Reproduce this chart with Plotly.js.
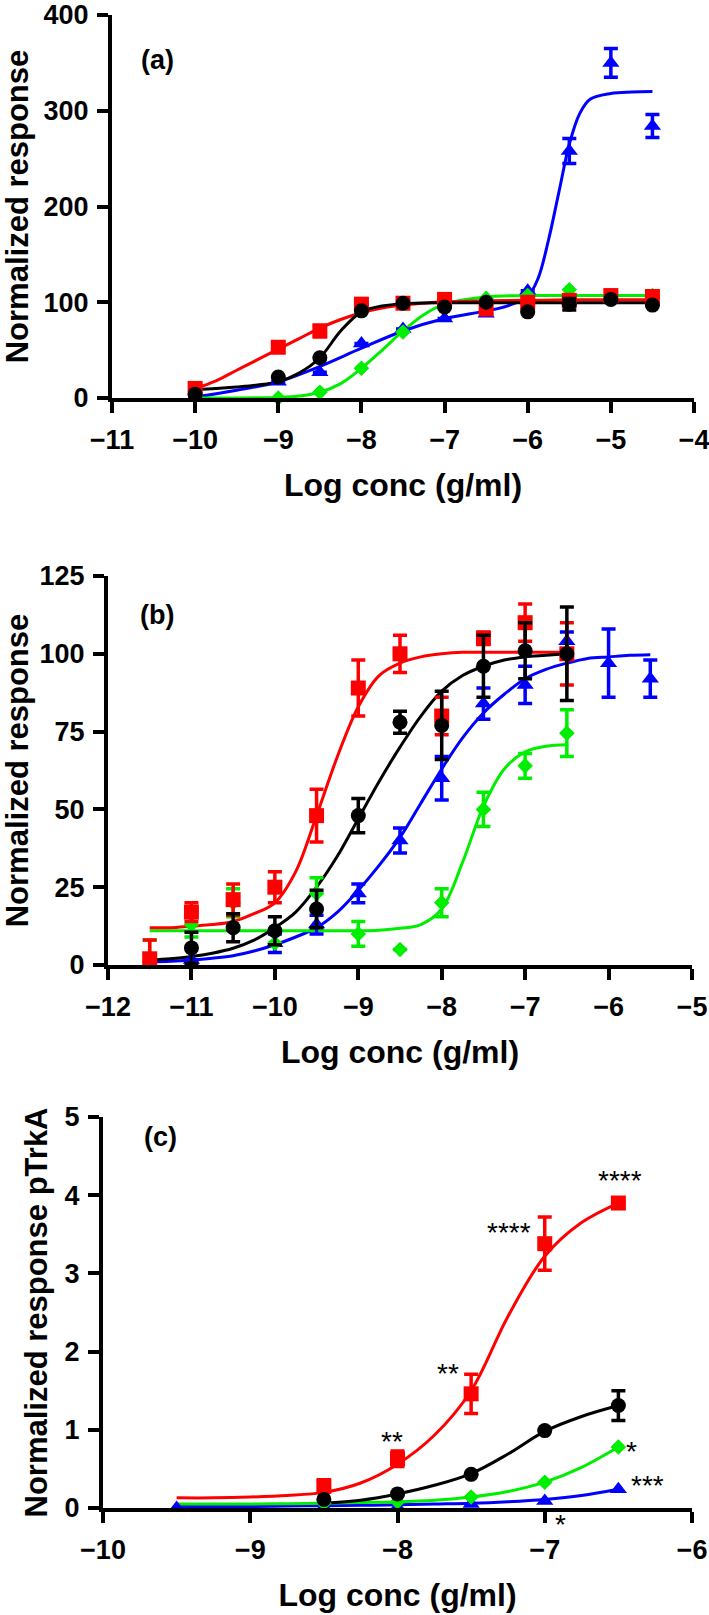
<!DOCTYPE html>
<html>
<head>
<meta charset="utf-8">
<script src="https://cdn.plot.ly/plotly-3.0.1.min.js"></script>
<style>html,body{margin:0;padding:0;background:#fff;}#chart{width:709px;height:1615px;}</style>
</head>
<body>
<div id="chart"></div>
<script>
// ---------- Panel (a) ----------
const aPointX = [-10, -9, -8.5, -8, -7.5, -7, -6.5, -6, -5.5, -5, -4.5];
const aRedY   = [10, 53, 70, 98, 99, 103, 93, 100, 102, 107, 106];
const aRedErr = [null, null, 6, null, null, null, null, null, null, null, null];
const aBlackY = [4, 22, 42, 91, 99, 95, 100, 90, 98, 103, 97];
const aBlackErr = [null, null, null, null, null, null, null, null, 6, null, null];
const aBlueY  = [0, 17, 27, 57, 72, 83, 88, 112, 258, 350, 284];
const aBlueErr = [null, null, null, null, null, null, null, null, 13, 15, 12];
const aGreenY = [null, 0, 6, 31, 69, 100, 104, 107, 113, 107, 107];

const aCurveX = [-10, -9.75, -9.5, -9.25, -9, -8.75, -8.5, -8.25, -8, -7.75, -7.5, -7.25, -7, -6.5, -6, -5.5, -5, -4.5];
const aRedCurve   = [10, 18, 29, 40, 51, 62, 73, 82, 89, 94, 97, 99, 100.5, 101.5, 102, 102.5, 102.5, 102.5];
const aBlackCurve = [9, 10, 11.5, 13.5, 17, 26, 42, 70, 90, 96, 98.5, 99.3, 99.5, 99.5, 99.5, 99.5, 99.5, 99.5];
const aGreenCurve = [0, 0, 0, 0.2, 0.5, 2, 6, 15, 31, 50, 70, 87, 98, 105.5, 107, 107, 107, 107];
const aBlueCurveX = [-10, -9.5, -9, -8.5, -8, -7.5, -7, -6.5, -6.25, -6, -5.875, -5.75, -5.625, -5.5, -5.375, -5.25, -5, -4.75, -4.5];
const aBlueCurve  = [1, 8, 17, 33, 52, 70, 83, 91, 96, 106, 125, 165, 215, 265, 297, 312, 318, 319.5, 320];

// ---------- Panel (b) ----------
const bPointX = [-11.5, -11, -10.5, -10, -9.5, -9, -8.5, -8, -7.5, -7, -6.5];
const bRedY   = [2, 17, 21, 25, 48, 89, 100, 80, 105, 110, 100];
const bRedErr = [6, 3, 5, 5, 8.5, 9, 6, 6, 2, 6, 10];
const bBlackY = [null, 5.5, 12, 11, 18, 48, 78, 77, 96, 101, 100];
const bBlackErr = [null, 5, 4.5, 4.5, 6, 5.5, 3.5, 11, 10, 9, 15];
const bGreenY = [1, 13, 20, 7, 23, 10, 5, 20, 50, 64, 74.5];
const bGreenErr = [7, 4, 4.5, null, 5, 4, null, 4.5, 5.5, 4, 7.5];
const bBlueX  = [-11, -10, -9.5, -9, -8.5, -8, -7.5, -7, -6.5, -6, -5.5];
const bBlueY  = [1.6, 7, 13, 23, 40, 60, 84, 90, 104, 97, 92];
const bBlueErr = [null, 3, 3, 3, 4, 7, 5, 6, 3, 11, 6];

const bCurveX = [-11.5, -11.25, -11, -10.75, -10.5, -10.25, -10, -9.75, -9.5, -9.25, -9, -8.75, -8.5, -8.25, -8, -7.75, -7.5, -7.25, -7, -6.75, -6.5];
const bRedCurve   = [12, 12, 12.5, 13, 14, 16.5, 20, 30, 48, 67, 83, 93, 97, 99, 100, 100.5, 100.5, 100.5, 100.5, 100.5, 100.5];
const bBlackCurve = [1.6, 2, 2.7, 3.8, 5.4, 8, 12, 17, 25, 35, 47, 59, 70, 80, 88, 93, 96, 98, 99, 99.5, 100];
const bGreenCurve = [11, 11, 11, 11, 11, 11, 11, 11, 11, 11, 11, 11.2, 11.8, 13, 18, 33, 51, 63, 68.5, 70.3, 70.8];
const bBlueCurveX = [-11.5, -11.25, -11, -10.75, -10.5, -10.25, -10, -9.75, -9.5, -9.25, -9, -8.75, -8.5, -8.25, -8, -7.75, -7.5, -7.25, -7, -6.75, -6.5, -6.25, -6, -5.75, -5.5];
const bBlueCurve  = [1, 1.2, 1.6, 2.2, 3, 4.5, 6.5, 9, 12, 17, 24, 32, 41, 52, 63, 73, 81, 87, 92, 95, 97, 98.5, 99, 99.5, 99.7];

// ---------- Panel (c) ----------
const cPointX = [-9.5, -8.5, -8, -7.5, -7, -6.5];
const cRedY   = [null, 0.28, 0.63, 1.46, 3.38, 3.9];
const cRedErr = [null, 0.08, 0.1, 0.25, 0.34, null];
const cBlackY = [null, 0.11, 0.18, 0.43, 0.99, 1.31];
const cBlackErr = [null, null, null, null, null, 0.19];
const cGreenY = [null, 0.06, 0.08, 0.14, 0.33, 0.78];
const cBlueY  = [0, 0.01, 0.01, 0.05, 0.09, 0.24];

const cCurveX = [-9.5, -9.25, -9, -8.75, -8.5, -8.25, -8, -7.75, -7.5, -7.25, -7, -6.75, -6.5];
const cRedCurve   = [0.13, 0.13, 0.14, 0.16, 0.2, 0.32, 0.56, 0.93, 1.5, 2.45, 3.22, 3.65, 3.9];
const cBlackCurve = [null, null, null, null, 0.06, 0.1, 0.18, 0.29, 0.44, 0.69, 0.98, 1.17, 1.31];
const cGreenCurve = [0.05, 0.05, 0.05, 0.055, 0.06, 0.07, 0.08, 0.1, 0.14, 0.21, 0.33, 0.52, 0.78];
const cBlueCurve  = [0.02, 0.02, 0.02, 0.025, 0.03, 0.035, 0.04, 0.05, 0.06, 0.08, 0.11, 0.16, 0.24];

const sigX    = [-8.04, -7.66, -7.24, -6.49, -6.41, -6.30, -6.89];
const sigY    = [0.93, 1.8, 3.6, 4.26, 0.8, 0.36, -0.13];
const sigText = ['**', '**', '****', '****', '*', '***', '*'];

const panelLabels = ['(a)', '(b)', '(c)'];
const yTitles = ['Normalized response', 'Normalized response', 'Normalized response pTrkA'];
const xTitle = 'Log conc (g/ml)';

// ---------- styles ----------
const FONT = 'Liberation Sans, Arial, Helvetica, sans-serif';
const RED = '#ff0000', BLACK = '#000000', BLUE = '#0000ff', GREEN = '#00ee00';
const SYM = {red: 'square', black: 'circle', blue: 'triangle-up', green: 'diamond'};
const COL = {red: RED, black: BLACK, blue: BLUE, green: GREEN};
const SIZE = {red: 15, black: 15, blue: 15, green: 12};

const traces = [];
function curve(x, y, c, ax) {
  traces.push({x: x, y: y, xaxis: 'x' + ax, yaxis: 'y' + ax, mode: 'lines', type: 'scatter',
    line: {color: COL[c], width: 3, shape: 'spline', smoothing: 1}, hoverinfo: 'skip', cliponaxis: false, connectgaps: false});
}
function pts(x, y, c, ax, err) {
  const t = {x: x, y: y, xaxis: 'x' + ax, yaxis: 'y' + ax, mode: 'markers', type: 'scatter', cliponaxis: false,
    marker: {symbol: SYM[c], size: SIZE[c], color: COL[c], line: {width: 0}}};
  if (err) t.error_y = {type: 'data', array: err, visible: true, color: COL[c], thickness: 3.5, width: 7};
  traces.push(t);
}
// panel a
curve(aBlueCurveX, aBlueCurve, 'blue', '');
curve(aCurveX, aGreenCurve, 'green', '');
curve(aCurveX, aRedCurve, 'red', '');
curve(aCurveX, aBlackCurve, 'black', '');
pts(aPointX, aBlueY, 'blue', '', aBlueErr);
pts(aPointX, aGreenY, 'green', '');
pts(aPointX, aRedY, 'red', '', aRedErr);
pts(aPointX, aBlackY, 'black', '', aBlackErr);
// panel b
curve(bBlueCurveX, bBlueCurve, 'blue', '2');
curve(bCurveX, bGreenCurve, 'green', '2');
curve(bCurveX, bRedCurve, 'red', '2');
curve(bCurveX, bBlackCurve, 'black', '2');
pts(bBlueX, bBlueY, 'blue', '2', bBlueErr);
pts(bPointX, bGreenY, 'green', '2', bGreenErr);
pts(bPointX, bRedY, 'red', '2', bRedErr);
pts(bPointX, bBlackY, 'black', '2', bBlackErr);
// panel c
curve(cCurveX, cBlueCurve, 'blue', '3');
curve(cCurveX, cGreenCurve, 'green', '3');
curve(cCurveX, cRedCurve, 'red', '3');
curve(cCurveX, cBlackCurve, 'black', '3');
pts(cPointX, cBlueY, 'blue', '3');
pts(cPointX, cGreenY, 'green', '3');
pts(cPointX, cRedY, 'red', '3', cRedErr);
pts(cPointX, cBlackY, 'black', '3', cBlackErr);

const W = 709, H = 1615;
function px(x) { return x / W; }
function py(y) { return 1 - y / H; }

const TICKFONT = {family: FONT, size: 27, color: '#000', weight: 'bold'};
function xAxis(range, left, right, anchor) {
  return {domain: [px(left), px(right)], anchor: anchor, range: range, dtick: 1, tick0: range[0],
    showline: true, linewidth: 4, linecolor: '#000', ticks: 'outside', ticklen: 11, tickwidth: 4, tickcolor: '#000',
    showgrid: false, zeroline: false, fixedrange: true, ticklabelstandoff: 4, ticklabeloverflow: 'allow',
    tickfont: TICKFONT,
    title: {text: xTitle, font: {family: FONT, size: 32, color: '#000', weight: 'bold'}, standoff: 20}};
}
function yAxis(range, dtick, top, bottom, anchor, title) {
  return {domain: [py(bottom), py(top)], anchor: anchor, range: range, dtick: dtick, tick0: 0,
    showline: true, linewidth: 4, linecolor: '#000', ticks: 'outside', ticklen: 11, tickwidth: 4, tickcolor: '#000',
    showgrid: false, zeroline: false, fixedrange: true, ticklabelstandoff: 3, ticklabeloverflow: 'allow',
    tickfont: TICKFONT,
    title: {text: title, font: {family: FONT, size: 31, color: '#000', weight: 'bold'}, standoff: 9}};
}

const annotations = [];
const labelPos = [[157, 60], [157, 615], [160, 1137]];
panelLabels.forEach(function (t, i) {
  annotations.push({text: t, xref: 'paper', yref: 'paper', x: px(labelPos[i][0]), y: py(labelPos[i][1]),
    xanchor: 'center', yanchor: 'middle', showarrow: false,
    font: {family: FONT, size: 27, color: '#000', weight: 'bold'}});
});
// significance asterisks: x in data units, y as a fraction of panel (c)'s y range so one may sit below the axis
const cYMax = 5;
sigText.forEach(function (t, i) {
  annotations.push({text: t, xref: 'x3', yref: 'y3 domain', x: sigX[i], y: sigY[i] / cYMax,
    xanchor: 'center', yanchor: 'middle', showarrow: false, yshift: -6,
    font: {family: FONT, size: 28, color: '#000'}});
});

const layout = {
  width: W, height: H, margin: {l: 0, r: 0, t: 0, b: 0}, showlegend: false,
  paper_bgcolor: '#fff', plot_bgcolor: '#fff',
  xaxis: xAxis([-11, -4], 112, 694, 'y'),
  yaxis: yAxis([0, 400], 100, 15, 398, 'x', yTitles[0]),
  xaxis2: xAxis([-12, -5], 108, 692, 'y2'),
  yaxis2: yAxis([0, 125], 25, 576, 965, 'x2', yTitles[1]),
  xaxis3: xAxis([-10, -6], 103, 692, 'y3'),
  yaxis3: yAxis([0, cYMax], 1, 1117, 1508, 'x3', yTitles[2]),
  annotations: annotations
};
Plotly.newPlot('chart', traces, layout, {staticPlot: true, displayModeBar: false});
</script>
</body>
</html>
